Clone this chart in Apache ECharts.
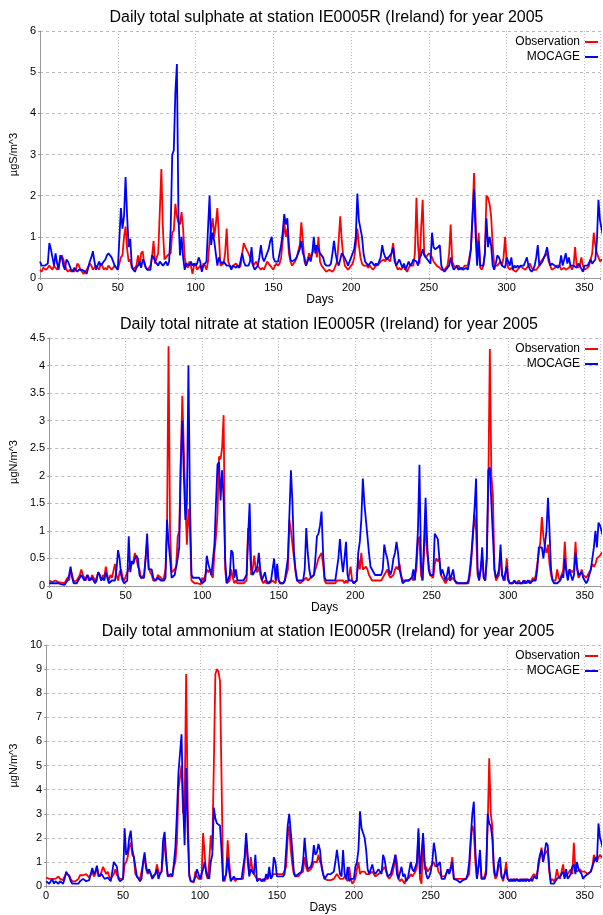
<!DOCTYPE html>
<html>
<head>
<meta charset="utf-8">
<script src="https://cdn.jsdelivr.net/npm/echarts@6/dist/echarts.min.js"></script>
<style>html,body{margin:0;padding:0;background:#fff}#c{width:603px;height:915px}</style>
</head>
<body>
<div id="c"></div>
<script>
// Titles and axis names
const titles = [
  'Daily total sulphate at station IE0005R (Ireland) for year 2005',
  'Daily total nitrate at station IE0005R (Ireland) for year 2005',
  'Daily total ammonium at station IE0005R (Ireland) for year 2005'
];
const yNames = ['µgS/m^3', 'µgN/m^3', 'µgN/m^3'];
const seriesNames = ['Observation', 'MOCAGE'];
const yMax = [6, 4.5, 10];
const yStep = [1, 0.5, 1];

// Sulphate (day 0..364)
const so4Obs = [
0.2,0.15,0.25,0.25,0.2,0.25,0.3,0.25,0.2,0.3,
0.25,0.2,0.3,0.45,0.55,0.45,0.3,0.2,0.15,0.2,
0.15,0.2,0.15,0.2,0.35,0.3,0.2,0.15,0.1,0.15,
0.2,0.2,0.35,0.3,0.2,0.25,0.3,0.25,0.2,0.35,
0.3,0.2,0.25,0.2,0.3,0.25,0.2,0.2,0.3,0.25,
0.2,0.35,0.5,0.55,1.0,1.25,0.7,0.4,0.45,0.25,
0.2,0.2,0.3,0.55,0.3,0.6,0.65,0.35,0.25,0.2,
0.25,0.3,0.5,0.9,0.35,0.5,0.6,1.6,2.65,1.2,
0.45,0.5,0.55,0.55,0.6,1.1,1.15,1.8,1.5,1.35,
1.3,1.6,1.2,0.5,0.3,0.25,0.4,0.3,0.1,0.3,
0.35,0.2,0.25,0.3,0.2,0.35,0.3,0.2,0.4,0.9,
1.2,1.45,1.0,1.3,1.7,1.0,0.3,0.3,0.35,0.6,
1.2,0.4,0.3,0.25,0.3,0.3,0.35,0.3,0.25,0.3,
0.6,0.85,0.75,0.75,0.6,0.5,0.4,0.3,0.35,0.4,
0.3,0.25,0.2,0.25,0.2,0.3,0.4,0.35,0.3,0.25,
0.2,0.3,0.35,0.3,0.35,0.5,0.9,1.35,1.0,1.2,
0.6,0.4,0.3,0.3,0.4,0.5,0.5,0.8,1.35,0.9,
0.4,0.3,0.45,0.6,0.5,0.6,0.7,0.8,0.5,1.0,
0.4,0.3,0.3,0.2,0.15,0.15,0.2,0.2,0.15,0.2,
0.3,0.4,0.9,1.5,0.9,0.5,0.3,0.25,0.2,0.25,
0.3,0.35,0.5,0.8,1.2,0.8,0.5,0.35,0.3,0.3,
0.3,0.25,0.3,0.25,0.2,0.25,0.3,0.3,0.35,0.4,
0.4,0.45,0.4,0.5,0.45,0.4,0.6,0.85,0.5,0.3,
0.2,0.25,0.2,0.25,0.3,0.2,0.15,0.25,0.3,0.3,
0.3,0.6,1.95,0.8,0.35,1.2,1.9,0.6,0.5,0.55,
0.6,0.6,0.5,0.4,0.35,0.3,0.3,0.25,0.2,0.2,
0.2,0.25,0.3,0.6,1.3,0.4,0.3,0.3,0.25,0.3,
0.25,0.2,0.25,0.3,0.3,0.3,0.5,0.7,1.4,2.55,
1.5,0.35,1.1,0.25,0.2,0.3,0.6,2.0,1.95,1.8,
1.5,0.8,0.3,0.3,0.3,0.35,0.4,0.3,0.5,1.0,
0.4,0.25,0.2,0.25,0.2,0.2,0.15,0.2,0.2,0.3,
0.25,0.25,0.2,0.2,0.3,0.35,0.25,0.2,0.2,0.2,
0.2,0.3,0.4,0.45,0.5,0.5,0.6,0.4,0.3,0.2,
0.2,0.25,0.3,0.3,0.3,0.2,0.2,0.25,0.2,0.2,
0.25,0.3,0.2,0.3,0.75,0.3,0.25,0.3,0.5,0.3,
0.2,0.2,0.25,0.3,0.3,0.6,1.1,0.8,0.6,0.5,
0.4,0.45,0.4,0.35,0.4
];
const so4Mod = [
0.4,0.3,0.3,0.3,0.3,0.35,0.85,0.7,0.5,0.3,
0.6,0.35,0.2,0.55,0.5,0.3,0.2,0.45,0.4,0.4,
0.2,0.15,0.25,0.25,0.15,0.2,0.2,0.2,0.2,0.15,
0.1,0.25,0.4,0.5,0.65,0.4,0.2,0.3,0.4,0.3,
0.35,0.4,0.45,0.55,0.6,0.55,0.5,0.5,0.3,0.25,
0.2,0.2,1.7,1.2,1.5,2.45,1.5,0.75,0.95,0.3,
0.2,0.15,0.25,0.3,0.4,0.25,0.45,0.4,0.25,0.2,
0.2,0.2,0.55,0.5,0.4,0.35,0.3,0.4,0.35,0.3,
0.35,0.4,0.3,0.4,1.2,3.0,3.1,4.5,5.2,1.5,
0.55,1.0,0.5,0.2,0.35,0.35,0.3,0.4,0.3,0.35,
0.3,0.35,0.5,0.4,0.15,0.3,0.3,0.4,1.2,2.0,
0.8,1.1,0.9,0.6,0.3,0.5,0.4,0.35,0.4,0.35,
0.3,0.3,0.3,0.2,0.3,0.3,0.25,0.3,0.25,0.25,
0.6,0.4,0.3,0.3,0.3,0.4,0.75,0.3,0.2,0.2,
0.3,0.5,0.8,0.5,0.4,0.4,0.6,0.7,0.9,1.0,
0.5,0.4,0.4,0.4,0.4,0.8,1.1,1.55,1.3,1.45,
0.8,0.45,0.4,0.4,0.45,0.5,0.6,0.7,0.9,0.6,
0.5,0.3,0.4,0.5,0.4,0.6,1.0,0.6,0.8,0.7,
0.6,0.55,0.5,0.35,0.3,0.3,0.3,0.35,0.6,0.9,
0.6,0.4,0.3,0.45,0.6,0.55,0.55,0.4,0.3,0.3,
0.5,0.6,0.7,1.0,2.05,1.4,1.2,1.0,0.6,0.4,
0.35,0.3,0.3,0.4,0.35,0.3,0.35,0.3,0.3,0.5,
0.8,0.6,0.5,0.45,0.5,0.5,0.6,0.75,0.4,0.3,
0.3,0.45,0.35,0.25,0.35,0.2,0.3,0.4,0.3,0.35,
0.45,0.45,0.4,0.3,0.5,0.55,0.7,0.55,0.5,0.45,
0.4,0.35,1.1,0.75,0.7,0.7,0.75,0.8,0.3,0.2,
0.15,0.2,0.2,0.3,0.5,0.3,0.2,0.25,0.3,0.2,
0.2,0.25,0.2,0.2,0.25,0.2,0.4,0.7,1.5,2.15,
1.1,0.3,0.9,0.3,0.3,0.3,0.6,1.45,0.75,1.0,
0.8,0.3,0.2,0.35,0.55,0.5,0.4,0.3,0.3,0.25,
0.5,0.4,0.3,0.5,0.2,0.3,0.25,0.3,0.25,0.3,
0.3,0.3,0.4,0.5,0.3,0.2,0.15,0.2,0.3,0.5,
0.8,0.3,0.35,0.4,0.5,0.6,0.75,0.5,0.3,0.35,
0.35,0.3,0.3,0.25,0.3,0.55,0.3,0.3,0.6,0.35,
0.5,0.3,0.3,0.3,0.3,0.25,0.35,0.3,0.3,0.15,
0.3,0.3,0.3,0.3,0.45,0.35,0.4,0.45,0.9,1.9,
1.4,1.2,1.0,0.9,0.8
];

// Nitrate
const no3Obs = [
0.1,0.08,0.07,0.08,0.1,0.08,0.07,0.05,0.06,0.05,
0.05,0.04,0.15,0.1,0.3,0.2,0.08,0.05,0.1,0.15,
0.2,0.3,0.2,0.15,0.1,0.2,0.15,0.1,0.2,0.15,
0.1,0.15,0.25,0.2,0.1,0.2,0.15,0.35,0.2,0.1,
0.2,0.15,0.15,0.4,0.2,0.1,0.25,0.3,0.15,0.1,
0.1,0.25,0.3,0.45,0.4,0.45,0.6,0.5,0.35,0.3,
0.15,0.15,0.2,0.5,0.8,0.35,0.25,0.2,0.1,0.1,
0.1,0.2,0.2,0.15,0.1,0.15,0.3,1.0,4.35,1.0,
0.25,0.25,0.3,0.35,0.9,1.0,2.3,3.45,2.5,1.5,
0.75,1.4,1.0,0.1,0.1,0.05,0.05,0.05,0.05,0.03,
0.15,0.1,0.1,0.3,0.25,0.3,0.2,0.15,0.6,0.9,
1.3,2.35,2.3,2.5,3.1,0.3,0.05,0.05,0.1,0.3,
0.15,0.05,0.1,0.05,0.05,0.05,0.05,0.05,0.05,0.1,
1.05,0.8,0.2,0.3,0.55,0.3,0.25,0.35,0.2,0.1,
0.05,0.1,0.05,0.05,0.05,0.05,0.1,0.1,0.05,0.25,
0.1,0.05,0.05,0.05,0.1,0.1,0.3,1.2,1.0,1.0,
0.5,0.25,0.1,0.1,0.05,0.05,0.1,0.1,0.15,0.1,
0.1,0.15,0.15,0.2,0.3,0.4,0.5,0.55,0.6,0.4,
0.1,0.05,0.05,0.05,0.05,0.05,0.05,0.05,0.1,0.1,
0.1,0.1,0.1,0.05,0.1,0.05,0.2,0.35,0.1,0.05,
0.05,0.1,0.5,0.3,0.6,0.3,0.3,0.35,0.3,0.2,
0.15,0.1,0.1,0.1,0.1,0.1,0.1,0.1,0.1,0.2,
0.25,0.3,0.2,0.15,0.15,0.2,0.3,0.35,0.3,0.4,
0.2,0.1,0.1,0.1,0.1,0.1,0.1,0.15,0.1,0.1,
0.3,0.8,0.9,0.2,0.1,0.6,1.2,0.6,0.4,0.2,
0.2,0.15,0.4,0.5,0.45,0.5,0.2,0.2,0.1,0.05,
0.1,0.15,0.1,0.1,0.15,0.1,0.05,0.05,0.05,0.05,
0.05,0.05,0.05,0.05,0.05,0.2,0.5,0.9,1.3,1.0,
0.2,0.1,0.3,0.5,0.15,0.1,0.5,1.8,4.3,2.0,
1.65,0.3,0.1,0.1,0.2,0.6,0.2,0.15,0.1,0.5,
0.15,0.05,0.05,0.05,0.1,0.05,0.05,0.1,0.05,0.05,
0.05,0.1,0.05,0.05,0.1,0.05,0.15,0.1,0.2,0.4,
0.6,0.8,1.25,0.9,0.7,0.6,0.75,0.4,0.2,0.1,
0.1,0.1,0.3,0.15,0.1,0.1,0.3,0.8,0.3,0.2,
0.3,0.3,0.25,0.3,0.8,0.3,0.15,0.2,0.3,0.2,
0.2,0.15,0.2,0.2,0.3,0.4,0.35,0.4,0.5,0.5,
0.55,0.6,0.6,0.6,0.6
];
const no3Mod = [
0.05,0.05,0.05,0.05,0.05,0.04,0.05,0.05,0.03,0.02,
0.02,0.05,0.1,0.2,0.35,0.15,0.05,0.03,0.05,0.1,
0.15,0.2,0.15,0.1,0.15,0.2,0.1,0.1,0.15,0.1,
0.05,0.1,0.25,0.2,0.1,0.15,0.1,0.25,0.15,0.05,
0.05,0.1,0.1,0.1,0.3,0.65,0.5,0.2,0.1,0.05,
0.05,0.1,0.9,0.25,0.45,0.4,0.5,0.55,0.5,0.2,
0.15,0.15,0.15,0.5,0.95,0.3,0.3,0.3,0.15,0.1,
0.1,0.15,0.15,0.1,0.1,0.1,0.15,1.2,0.8,0.5,
0.15,0.15,0.2,0.2,0.5,0.7,2.2,3.0,2.0,1.2,
1.5,4.0,1.5,0.2,0.15,0.15,0.15,0.15,0.15,0.1,
0.05,0.05,0.1,0.55,0.4,0.4,0.2,0.2,0.75,1.5,
2.2,2.25,1.55,2.1,1.6,0.5,0.05,0.05,0.2,0.65,
0.6,0.15,0.3,0.1,0.1,0.1,0.1,0.1,0.1,0.2,
0.9,1.5,0.35,0.2,0.2,0.3,0.35,0.6,0.3,0.1,
0.1,0.25,0.1,0.05,0.05,0.1,0.3,0.5,0.1,0.4,
0.1,0.05,0.05,0.05,0.1,0.1,0.5,1.3,2.1,1.5,
0.6,0.3,0.1,0.1,0.1,0.1,0.1,0.3,1.05,0.6,
0.3,0.15,0.15,0.2,0.5,0.9,0.95,1.1,1.35,0.6,
0.15,0.1,0.1,0.1,0.1,0.1,0.1,0.1,0.3,0.5,
0.85,0.5,0.25,0.5,0.8,0.2,0.1,0.1,0.1,0.05,
0.05,0.1,0.6,0.8,1.2,1.95,1.5,1.2,0.9,0.6,
0.35,0.3,0.25,0.2,0.2,0.2,0.2,0.2,0.3,0.75,
0.6,0.5,0.3,0.2,0.3,0.5,0.6,0.8,0.6,0.3,
0.3,0.05,0.05,0.1,0.1,0.1,0.1,0.15,0.3,0.1,
0.5,1.0,2.2,0.4,0.1,0.8,1.6,0.8,0.3,0.2,
0.2,0.2,0.95,0.9,0.85,0.5,0.2,0.3,0.2,0.1,
0.2,0.35,0.1,0.2,0.3,0.1,0.1,0.05,0.05,0.05,
0.05,0.05,0.05,0.05,0.1,0.3,0.6,1.0,1.4,1.95,
0.3,0.1,0.3,0.7,0.15,0.1,0.5,2.1,2.15,1.5,
1.5,0.3,0.15,0.2,0.3,0.75,0.2,0.1,0.1,0.35,
0.1,0.05,0.05,0.05,0.1,0.05,0.05,0.05,0.05,0.05,
0.1,0.05,0.05,0.1,0.05,0.05,0.1,0.1,0.1,0.3,
0.7,0.7,0.7,0.5,0.5,1.0,1.6,1.0,0.3,0.1,
0.05,0.05,0.05,0.05,0.1,0.2,0.15,0.5,0.25,0.1,
0.3,0.2,0.1,0.2,0.6,0.35,0.2,0.2,0.25,0.15,
0.1,0.05,0.1,0.2,0.3,0.5,0.7,1.0,0.7,1.15,
1.1,1.0,0.9,0.9,0.8
];

// Ammonium
const nh4Obs = [
0.35,0.3,0.3,0.35,0.3,0.3,0.3,0.25,0.4,0.3,
0.3,0.25,0.4,0.5,0.5,0.45,0.3,0.2,0.2,0.2,
0.2,0.3,0.45,0.4,0.45,0.4,0.5,0.45,0.35,0.3,
0.6,0.4,0.5,0.8,0.5,0.4,0.6,0.8,0.8,0.5,
0.6,0.4,0.3,0.4,0.5,0.7,0.45,0.4,0.3,0.3,
0.3,0.9,1.0,1.2,1.6,1.8,1.3,1.2,0.5,0.4,
0.35,0.3,0.3,0.9,1.2,0.7,0.5,0.6,0.5,0.4,
0.4,0.5,0.9,0.6,0.5,0.6,1.2,2.0,1.0,0.5,
0.4,0.45,0.4,0.8,1.0,1.8,4.0,4.5,5.0,3.0,
3.2,8.8,3.5,0.4,0.2,0.15,0.15,0.6,0.4,0.3,
0.3,0.3,2.2,2.15,0.5,0.3,1.0,2.1,1.5,5.0,
8.8,9.0,8.9,8.5,4.5,0.3,0.2,0.5,1.9,1.0,
0.3,0.3,0.3,0.2,0.3,0.3,0.3,0.3,0.3,1.0,
1.9,1.0,0.5,1.2,0.7,0.5,0.5,0.3,0.3,0.3,
0.3,0.2,0.3,0.3,0.3,0.5,0.4,0.4,0.5,0.5,
0.5,0.5,0.5,0.5,0.5,0.5,0.8,2.0,2.5,1.5,
0.9,0.5,0.4,0.4,0.4,0.5,0.5,0.6,1.2,0.8,
0.6,0.6,0.7,0.8,1.0,1.0,1.0,1.3,1.0,0.9,
0.5,0.3,0.25,0.25,0.25,0.25,0.3,0.3,0.4,0.5,
0.5,0.3,0.3,0.3,0.4,0.3,0.2,0.8,0.3,0.1,
0.1,0.3,0.7,1.0,0.5,0.6,0.6,0.6,0.5,0.5,
0.5,0.5,0.6,0.5,0.4,0.4,0.5,0.5,0.6,0.7,
0.8,0.6,0.4,0.3,0.4,0.5,0.8,1.3,1.0,0.3,
0.2,0.3,0.2,0.1,0.3,0.3,0.35,0.5,0.4,0.4,
0.6,0.8,2.2,0.3,0.1,2.0,0.7,0.8,0.6,0.7,
0.8,0.9,1.0,0.8,0.9,0.6,0.5,0.4,0.4,0.4,
0.5,0.7,0.6,0.8,1.2,0.3,0.3,0.3,0.3,0.3,
0.3,0.3,0.3,0.3,0.4,0.5,1.8,2.5,2.3,1.0,
0.3,0.8,1.2,0.3,0.3,0.4,0.7,2.5,5.3,3.0,
2.5,0.6,0.3,0.4,0.8,0.9,0.4,0.2,0.5,1.0,
0.3,0.3,0.2,0.3,0.2,0.3,0.3,0.2,0.3,0.2,
0.3,0.2,0.3,0.3,0.2,0.3,0.3,0.5,0.4,0.5,
0.8,1.2,1.6,1.0,1.3,1.4,1.5,0.6,0.2,0.3,
0.2,0.3,0.7,0.4,0.3,0.3,0.9,0.4,0.4,0.5,
0.5,0.7,0.5,1.8,0.7,0.6,0.6,0.7,0.6,0.6,
0.6,0.6,0.5,0.5,0.6,0.8,1.3,1.3,1.0,1.2,
1.3,1.2,1.2,1.1,1.0
];
const nh4Mod = [
0.2,0.15,0.1,0.2,0.3,0.1,0.2,0.15,0.1,0.2,
0.15,0.1,0.3,0.6,0.6,0.4,0.2,0.1,0.1,0.1,
0.15,0.1,0.2,0.25,0.3,0.25,0.2,0.2,0.25,0.2,
0.75,0.5,0.6,0.85,0.4,0.35,0.5,0.5,0.3,0.3,
0.35,0.3,0.2,0.6,1.0,1.0,0.8,0.3,0.2,0.2,
0.3,2.4,1.3,1.4,2.0,2.3,1.5,1.2,1.25,0.4,
0.3,0.2,0.3,1.0,1.4,0.8,0.55,0.7,0.5,0.3,
0.3,0.5,0.7,0.3,0.5,0.6,1.9,2.25,1.2,0.4,
0.4,0.5,0.4,0.9,1.6,3.0,4.7,5.5,6.3,3.5,
1.7,4.9,2.3,0.5,0.2,0.2,0.2,0.4,0.7,0.5,
0.3,0.5,0.7,1.0,0.6,0.4,0.3,1.0,1.3,3.25,
2.8,2.6,2.55,2.5,1.5,0.2,0.2,0.5,1.2,0.6,
0.2,0.3,0.4,0.3,0.3,0.3,0.3,0.3,0.3,1.2,
2.2,1.3,0.4,0.7,0.7,0.5,1.3,0.2,0.2,0.3,
0.2,0.3,0.2,0.5,0.3,0.8,0.3,0.4,1.2,1.0,
0.4,0.4,0.4,0.4,0.4,0.5,1.5,2.5,3.0,3.0,
1.5,0.6,0.4,0.4,0.5,0.5,0.6,1.0,2.0,1.2,
0.7,0.7,0.8,1.0,1.7,1.3,1.4,1.75,1.5,0.8,
0.5,0.3,0.4,0.5,0.5,0.5,0.5,0.6,1.0,1.5,
1.5,0.5,0.4,1.5,0.5,0.3,0.8,0.2,0.3,0.3,
0.3,0.8,1.0,1.5,3.1,2.4,2.2,2.0,1.5,0.7,
0.5,0.5,0.9,0.6,0.5,0.6,0.7,0.6,0.5,1.3,
1.1,0.7,0.4,0.4,0.5,0.5,1.0,1.3,0.5,0.3,
0.3,0.8,0.4,0.5,0.2,0.3,0.3,1.0,0.7,0.6,
0.6,1.0,2.4,0.5,0.5,2.2,1.0,0.5,0.3,0.4,
0.6,1.0,1.8,1.4,0.8,0.8,1.0,0.3,0.3,0.3,
0.5,0.7,0.5,0.7,1.0,0.3,0.25,0.25,0.2,0.15,
0.2,0.25,0.25,0.3,0.5,1.0,2.0,3.0,3.5,1.5,
0.3,0.8,1.5,0.3,0.3,0.3,0.5,3.0,2.6,2.5,
2.0,0.8,0.4,0.5,1.0,1.2,0.4,0.3,0.5,0.7,
0.3,0.2,0.3,0.2,0.3,0.2,0.3,0.3,0.2,0.3,
0.2,0.3,0.2,0.3,0.2,0.3,0.2,0.4,0.4,0.3,
1.0,1.3,1.5,1.0,1.0,1.8,1.7,0.8,0.1,0.1,
0.1,0.1,0.3,0.3,0.4,0.5,0.6,0.3,0.7,0.3,
0.4,0.5,0.8,0.9,0.5,1.0,0.7,0.7,0.5,0.3,
0.4,0.4,0.5,0.5,0.6,0.8,1.0,1.2,1.0,2.6,
2.0,1.8,1.5,1.5,1.4
];

const panels = [[so4Obs, so4Mod], [no3Obs, no3Mod], [nh4Obs, nh4Mod]];
const gridTop = [31, 338, 645];
const gridLeft = [40, 45, 43];
const gridHeight = [247, 248, 248];
const yNameGap = [17, 19, 19];
const colors = ['#ff0000', '#0000ff'];

function pairs(arr) { return arr.map((v, i) => [i, v]); }

const FONT = 'Liberation Sans, Arial, sans-serif';
const option = {
  animation: false,
  backgroundColor: '#fff',
  title: titles.map((t, k) => ({
    text: t, left: (gridLeft[k] + 603) / 2, textAlign: 'center',
    top: gridTop[k] - 26,
    textStyle: { fontFamily: FONT, fontSize: 16, fontWeight: 'normal', color: '#000' }
  })),
  legend: titles.map((t, k) => ({
    data: seriesNames, orient: 'vertical', right: 0, top: gridTop[k] + 0,
    align: 'right', icon: 'rect', itemWidth: 13, itemHeight: 2, itemGap: 3,
    textStyle: { fontFamily: FONT, fontSize: 12, color: '#000', padding: [0, 0, 0, 0] },
    selectedMode: false
  })),
  grid: titles.map((t, k) => ({ left: gridLeft[k], right: 0, top: gridTop[k], height: gridHeight[k] })),
  xAxis: titles.map((t, k) => ({
    gridIndex: k, type: 'value', min: 0, max: 360, interval: 50,
    name: 'Days', nameLocation: 'middle', nameGap: 14,
    nameTextStyle: { fontFamily: FONT, fontSize: 12, color: '#000' },
    axisLine: { lineStyle: { color: '#999', width: 1 } },
    axisTick: { show: true, length: 2, lineStyle: { color: '#999' } },
    axisLabel: { fontFamily: FONT, fontSize: 11, color: '#000', margin: 4,
      formatter: v => (v % 50 === 0 ? String(v) : '') },
    splitLine: { show: true, lineStyle: { color: '#bbb', type: [1, 2], width: 1 } }
  })),
  yAxis: titles.map((t, k) => ({
    gridIndex: k, type: 'value', min: 0, max: yMax[k], interval: yStep[k],
    name: yNames[k], nameLocation: 'middle', nameGap: yNameGap[k], nameRotate: 90,
    nameTextStyle: { fontFamily: FONT, fontSize: 11, color: '#000' },
    axisLine: { show: true, lineStyle: { color: '#999', width: 1 } },
    axisTick: { show: true, length: 2, lineStyle: { color: '#999' } },
    axisLabel: { fontFamily: FONT, fontSize: 11, color: '#000', margin: 4 },
    splitLine: { show: true, lineStyle: { color: '#bbb', type: [3, 3], width: 1 } }
  })),
  series: []
};
panels.forEach((p, k) => {
  p.forEach((arr, j) => {
    option.series.push({
      name: seriesNames[j], type: 'line', xAxisIndex: k, yAxisIndex: k,
      data: pairs(arr), showSymbol: false, symbol: 'none',
      lineStyle: { color: colors[j], width: 1.8 }, itemStyle: { color: colors[j] },
      clip: true, z: 2 + j
    });
  });
});
const chart = echarts.init(document.getElementById('c'), null, { renderer: 'canvas' });
chart.setOption(option);
</script>
</body>
</html>
